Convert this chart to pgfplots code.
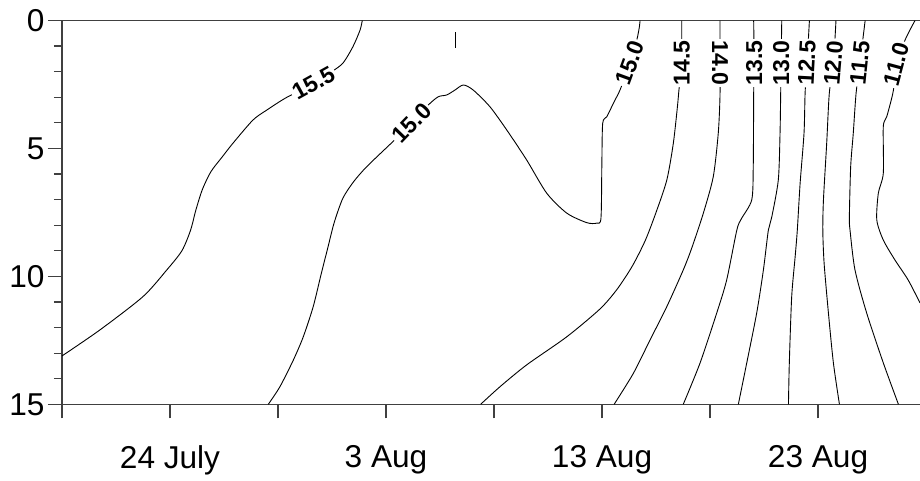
\documentclass[border=0pt]{standalone}
\usepackage{fontspec}
\setmainfont{Liberation Sans}
\usepackage{pgfplots}
\pgfplotsset{compat=1.18}
\tikzset{
  cline/.style={black, line width=0.45pt, smooth, tension=0.45, mark=none},
  clabel/.style={font=\bfseries\fontsize{11.5}{13}\selectfont, fill=white, inner sep=1.0pt},
}
\begin{document}
\begin{tikzpicture}
\begin{axis}[
  at={(31pt,38.35pt)}, anchor=south west,
  scale only axis, width=429pt, height=191.9pt,
  xmin=0, xmax=39.72, ymin=0, ymax=15, y dir=reverse,
  axis x line*=box, axis y line*=left,
  every outer x axis line/.append style={-},
  every outer y axis line/.append style={-},
  axis line style={black!75, line width=0.6pt, -},
  xtick={0,5,...,35}, xticklabels={,24 July,,3 Aug,,13 Aug,,23 Aug},
  ytick={0,5,10,15}, minor ytick={1,2,3,4,6,7,8,9,11,12,13,14},
  xtick pos=bottom, ytick pos=left,
  tick align=outside,
  major tick length=7pt, minor tick length=4pt,
  tick style={black!75, line width=0.6pt},
  tick label style={font=\fontsize{15.8}{18}\selectfont},
  xticklabel style={yshift=-10pt},
  yticklabel style={xshift=1.8pt},
  /pgf/number format/assume math mode=true,
]
% 15.5
\addplot[cline] coordinates {(0,13.11) (1.76,12.09) (3.75,10.79) (4.85,9.75) (5.55,9.0) (5.95,8.2) (6.2,7.4) (6.5,6.6) (6.9,5.9) (7.4,5.35) (7.92,4.79) (8.84,3.89) (9.48,3.50) (10.37,3.02) (11.62,2.48) (12.49,2.00) (13.01,1.66) (13.47,1.02) (13.80,0.37) (13.90,0)};
% 15.0
\addplot[cline] coordinates {(9.55,15) (10.09,14.31) (10.71,13.27) (11.17,12.36) (11.63,11.18) (12.0,9.9) (12.3,8.9) (12.6,7.9) (13.0,6.95) (13.5,6.3) (14.11,5.71) (15.26,4.78) (16.19,4.02) (16.96,3.30) (17.42,2.98) (17.81,2.91) (18.19,2.72) (18.58,2.52) (19.04,2.72) (19.81,3.37) (20.59,4.28) (21.51,5.45) (22.44,6.75) (23.37,7.53) (24.29,7.90) (24.75,7.92) (24.95,7.73) (24.99,5.71) (25.03,4.02) (25.22,3.76) (25.60,3.11) (25.83,2.72) (26.30,1.66) (26.61,0.76) (26.73,0.24) (26.76,0)};
% 14.5
\addplot[cline] coordinates {(19.38,15) (20.28,14.31) (21.51,13.46) (23.37,12.36) (24.91,11.27) (25.7,10.5) (26.4,9.6) (27.0,8.6) (27.5,7.5) (28.0,6.23) (28.30,4.80) (28.49,3.37) (28.56,2.72) (28.69,1.66) (28.69,0.76) (28.69,0)};
% 14.0
\addplot[cline] coordinates {(25.56,15) (26.45,13.79) (27.22,12.49) (28.00,11.18) (28.76,9.75) (29.15,8.90) (29.69,7.53) (30.15,6.10) (30.38,4.41) (30.46,2.98) (30.46,1.66) (30.46,0)};
% 13.5
\addplot[cline] coordinates {(28.76,15) (29.54,13.38) (30.31,11.43) (30.77,10.14) (31.24,8.19) (31.45,7.75) (31.93,7.01) (32.00,5.71) (32.02,2.85) (32.04,1.66) (32.02,0)};
% 13.0
\addplot[cline] coordinates {(31.31,15) (31.70,13.38) (32.16,11.43) (32.47,9.75) (32.70,8.19) (32.86,7.67) (33.16,6.23) (33.24,4.41) (33.27,2.85) (33.29,1.66) (33.32,0)};
% 12.5
\addplot[cline] coordinates {(33.63,15) (33.67,13.38) (33.78,10.79) (33.94,9.23) (34.04,8.19) (34.17,6.36) (34.35,4.41) (34.40,2.85) (34.48,1.66) (34.55,0.76) (34.60,0)};
% 12.0
\addplot[cline] coordinates {(35.99,15) (35.71,13.38) (35.48,11.43) (35.28,9.48) (35.22,8.19) (35.25,7.01) (35.40,4.80) (35.52,2.85) (35.71,1.66) (35.83,0)};
% 11.5
\addplot[cline] coordinates {(38.72,15) (38.02,13.38) (37.25,11.43) (36.71,9.75) (36.48,8.19) (36.45,7.67) (36.51,5.71) (36.63,4.41) (36.76,2.85) (36.94,1.66) (37.18,0)};
% 11.0
\addplot[cline] coordinates {(39.49,0) (39.03,0.76) (38.70,1.66) (38.46,2.85) (38.18,3.76) (38.02,4.15) (38.02,5.97) (37.79,6.75) (37.72,7.80) (38.02,8.58) (38.56,9.36) (39.17,10.14) (39.72,11.04)};
% station marker
\addplot[black, line width=0.6pt, mark=none] coordinates {(18.22,0.46) (18.22,1.09)};
% labels
\node[clabel, rotate=29] at (axis cs:11.64,2.45) {15.5};
\node[clabel, rotate=46] at (axis cs:16.19,4.02) {15.0};
\node[clabel, rotate=70] at (axis cs:26.30,1.66) {15.0};
\node[clabel, rotate=90] at (axis cs:28.69,1.66) {14.5};
\node[clabel, rotate=-90] at (axis cs:30.46,1.66) {14.0};
\node[clabel, rotate=90] at (axis cs:32.04,1.66) {13.5};
\node[clabel, rotate=90] at (axis cs:33.29,1.66) {13.0};
\node[clabel, rotate=87] at (axis cs:34.48,1.66) {12.5};
\node[clabel, rotate=85] at (axis cs:35.71,1.66) {12.0};
\node[clabel, rotate=84] at (axis cs:36.94,1.66) {11.5};
\node[clabel, rotate=75] at (axis cs:38.61,1.70) {11.0};
\end{axis}
\pgfresetboundingbox
\path[use as bounding box] (0,0) rectangle (460pt,240.5pt);
\end{tikzpicture}
\end{document}
